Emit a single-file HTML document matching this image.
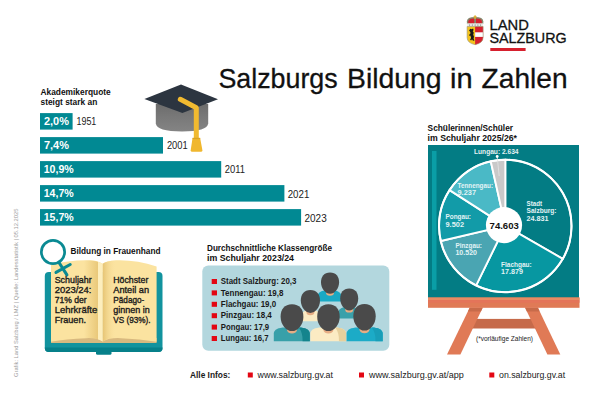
<!DOCTYPE html>
<html><head><meta charset="utf-8">
<style>
html,body{margin:0;padding:0;background:#fff;}
body{width:600px;height:400px;overflow:hidden;}
svg{display:block;font-family:"Liberation Sans",sans-serif;}
.b{font-weight:bold;}
</style></head><body>
<svg width="600" height="400" viewBox="0 0 600 400">
<rect width="600" height="400" fill="#ffffff"/>

<!-- LOGO -->
<g id="logo">
  <!-- crown -->
  <path d="M466.9 23.7 V21.2 Q466.9 16.9 475.1 16.9 Q483.3 16.9 483.3 21.2 V23.7 Z" fill="#86886c"/>
  <path d="M468.3 23.5 V21.6 Q468.5 18.5 474.2 18.4 V23.5 Z" fill="#d6202e"/>
  <path d="M481.9 23.5 V21.6 Q481.7 18.5 476 18.4 V23.5 Z" fill="#d6202e"/>
  <rect x="474.35" y="15.4" width="1.5" height="3.6" fill="#dfae2e"/>
  <rect x="473.5" y="16.3" width="3.2" height="1.1" fill="#dfae2e"/>
  <!-- ermine band -->
  <rect x="467.2" y="23.4" width="15.8" height="3.2" fill="#e9e9e6"/>
  <g fill="#555"><circle cx="469.6" cy="25" r="0.55"/><circle cx="472.3" cy="25" r="0.55"/><circle cx="475.1" cy="25" r="0.55"/><circle cx="477.9" cy="25" r="0.55"/><circle cx="480.6" cy="25" r="0.55"/></g>
  <!-- shield -->
  <path d="M467.1 26.5 H483.1 V37.5 Q483.1 43 475.1 44.7 Q467.1 43 467.1 37.5 Z" fill="#f3c31d"/>
  <path d="M475.1 26.5 H483.1 V37.5 Q483.1 43 475.1 44.7 Z" fill="#d6202e"/>
  <rect x="475.1" y="32.3" width="8" height="4.6" fill="#ffffff"/>
  <path d="M467.1 26.5 H483.1 V37.5 Q483.1 43 475.1 44.7 Q467.1 43 467.1 37.5 Z" fill="none" stroke="#9a9686" stroke-width="0.6"/>
  <path d="M470.2 28.8 l1.6 0.4 l1.2 -0.6 l0.6 1.4 l-0.8 1.2 l1 1.6 l-0.6 1.8 l0.8 2.2 l-0.4 2 l0.9 1.6 l-1.5 0.4 l-1 -1.6 l-0.9 1.2 l-1 -0.6 l1 -2 l-0.8 -2.2 l-1.1 0.4 l0.2 -1.6 l1.2 -1.2 l-0.6 -1.8 l-1 -0.6 z" fill="#1a1a1a"/>
  <g fill="#111" stroke="#111" stroke-width="0.3" font-size="15.4">
  <text x="489.5" y="29.5" textLength="39.3" lengthAdjust="spacingAndGlyphs" >LAND</text>
  <text x="489.5" y="43.1" textLength="77.2" lengthAdjust="spacingAndGlyphs" >SALZBURG</text>
  </g>
  <rect x="490.3" y="48" width="35.3" height="3" fill="#d6202e"/>
</g>

<!-- TITLE -->
<g fill="#111" stroke="#111" stroke-width="0.3" font-size="28.5">
  <text x="218.4" y="88.2" textLength="119.3" lengthAdjust="spacingAndGlyphs" >Salzburgs</text>
  <text x="347" y="88.2" textLength="94.6" lengthAdjust="spacingAndGlyphs" >Bildung</text>
  <text x="450" y="88.2" textLength="22.6" lengthAdjust="spacingAndGlyphs" >in</text>
  <text x="481.6" y="88.2" textLength="86" lengthAdjust="spacingAndGlyphs" >Zahlen</text>
</g>

<!-- BARS -->
<g id="bars">
  <g class="b" font-size="8.6" fill="#111">
  <text x="40.5" y="95.4" textLength="70.2" lengthAdjust="spacingAndGlyphs" >Akademikerquote</text>
  <text x="40.5" y="105.2" textLength="56.8" lengthAdjust="spacingAndGlyphs" >steigt stark an</text>
  </g>
  <g fill="#018993">
    <rect x="40" y="113.1" width="32.6" height="16.5"/>
    <rect x="40" y="137.1" width="123" height="16.5"/>
    <rect x="40" y="161.1" width="181.2" height="16.5"/>
    <rect x="40" y="185.1" width="244.4" height="16.5"/>
    <rect x="40" y="209.1" width="261.1" height="16.5"/>
  </g>
  <g class="b" fill="#fff" font-size="10.2">
    <text x="43.9" y="125.2" textLength="25" lengthAdjust="spacingAndGlyphs" >2,0%</text>
    <text x="43.9" y="149.2" textLength="25" lengthAdjust="spacingAndGlyphs" >7,4%</text>
    <text x="43.7" y="173.2" textLength="30" lengthAdjust="spacingAndGlyphs" >10,9%</text>
    <text x="43.7" y="197.2" textLength="30" lengthAdjust="spacingAndGlyphs" >14,7%</text>
    <text x="43.7" y="221.2" textLength="30" lengthAdjust="spacingAndGlyphs" >15,7%</text>
  </g>
  <g fill="#222" font-size="10.3">
    <text x="76.5" y="125.3" textLength="19.8" lengthAdjust="spacingAndGlyphs" >1951</text>
    <text x="166.9" y="149.2" textLength="20.8" lengthAdjust="spacingAndGlyphs" >2001</text>
    <text x="224.7" y="173.1" textLength="20.2" lengthAdjust="spacingAndGlyphs" >2011</text>
    <text x="287.7" y="197.5" textLength="21.6" lengthAdjust="spacingAndGlyphs" >2021</text>
    <text x="304.5" y="221.6" textLength="22.2" lengthAdjust="spacingAndGlyphs" >2023</text>
  </g>
</g>

<!-- CAP -->
<g id="cap">
  <defs><linearGradient id="gc" x1="0" y1="0" x2="0" y2="1"><stop offset="0" stop-color="#6c6c6c"/><stop offset="0.45" stop-color="#787878"/><stop offset="1" stop-color="#848484"/></linearGradient></defs>
  <path d="M155.8 104 V123.5 Q156.6 131.4 182 131.4 Q207.4 131.4 208.2 123.5 V104 Z" fill="url(#gc)"/>
  <path d="M144.4 99 L181 84.4 L218 99.3 L182.4 113 Z" fill="#2c3540"/>
  <path d="M180.3 99.3 L196.3 107.8 V139" fill="none" stroke="#f1ba30" stroke-width="5" stroke-linejoin="round" stroke-linecap="round"/>
  <path d="M192.5 138.2 H200.2 L202.4 150.2 Q202.5 151.8 200.9 151.8 H192.2 Q190.6 151.8 190.7 150.2 Z" fill="#f0b72e"/>
  <rect x="192.5" y="137.8" width="7.7" height="1.3" fill="#d9a426"/>
</g>

<!-- BOOK -->
<g id="book">
  <defs>
    <linearGradient id="gl" x1="0" x2="1"><stop offset="0" stop-color="#e3bf6c" stop-opacity="0"/><stop offset="0.75" stop-color="#e3bf6c" stop-opacity="0.75"/><stop offset="0.76" stop-color="#fdeebd"/><stop offset="1" stop-color="#fdeebd"/></linearGradient>
    <linearGradient id="gr" x1="0" x2="1"><stop offset="0" stop-color="#e6c474"/><stop offset="1" stop-color="#fbe3a0" stop-opacity="0"/></linearGradient>
  </defs>
  <rect x="44.8" y="272" width="117.7" height="80" rx="4" fill="#12939e"/>
  <path d="M44.8 347.5 H162.5 V348 Q162.5 352 158.5 352 H48.8 Q44.8 352 44.8 348 Z" fill="#06808a"/>
  <rect x="96" y="350" width="15.5" height="4.7" rx="1.5" fill="#06808a"/>
  <path d="M51 338 H156.6 V343 H51 Z" fill="#d8b97f"/>
  <path d="M51 264.8 Q70 259.6 90 260.2 Q98 260.6 102.8 263.8 V341.6 Q97 337.6 86 338.2 Q66 339 51 341.8 Z" fill="#fbe3a0"/>
  <path d="M102.8 263.8 Q106 260.8 116 260.3 Q136 259.6 156.6 266.5 V341.8 Q140 339 121 338.2 Q109 337.6 102.8 341.6 Z" fill="#fbe3a0"/>
  <path d="M84 260.2 Q98 260.6 102.8 263.8 V341.6 Q97 337.6 84 338.2 Z" fill="url(#gl)"/>
  <path d="M102.8 263.8 Q106 260.8 116 260.3 V338.2 Q109 337.6 102.8 341.6 Z" fill="url(#gr)"/>
  <circle cx="53" cy="252" r="11.65" fill="none" stroke="#0a8a93" stroke-width="2.7"/>
  <path d="M59.3 263 L66.9 274.9 M56 272.4 L70.2 264.5" stroke="#0a8a93" stroke-width="3.1" stroke-linecap="round" fill="none"/>
  <g class="b" font-size="8.6" fill="#111"><text x="70.5" y="253.6" textLength="90" lengthAdjust="spacingAndGlyphs" >Bildung in Frauenhand</text></g>
  <g fill="#1a1a1a" stroke="#1a1a1a" stroke-width="0.34" font-size="8.8">
    <text x="54.7" y="283.1" textLength="37" lengthAdjust="spacingAndGlyphs" >Schuljahr</text>
    <text x="54.7" y="293.15" textLength="36.8" lengthAdjust="spacingAndGlyphs" >2023/24:</text>
    <text x="54.7" y="303.2" textLength="32" lengthAdjust="spacingAndGlyphs" >71% der</text>
    <text x="54.7" y="313.25" textLength="42.5" lengthAdjust="spacingAndGlyphs" >Lehrkräfte</text>
    <text x="54.7" y="323.3" textLength="31.3" lengthAdjust="spacingAndGlyphs" >Frauen.</text>
    <text x="113.3" y="283.1" textLength="35" lengthAdjust="spacingAndGlyphs" >Höchster</text>
    <text x="113.3" y="293.15" textLength="35.8" lengthAdjust="spacingAndGlyphs" >Anteil an</text>
    <text x="113.3" y="303.2" textLength="31" lengthAdjust="spacingAndGlyphs" >Pädago-</text>
    <text x="113.3" y="313.25" textLength="36.5" lengthAdjust="spacingAndGlyphs" >ginnen in</text>
    <text x="113.3" y="323.3" textLength="37.3" lengthAdjust="spacingAndGlyphs" >VS (93%).</text>
  </g>
</g>

<!-- CLASS SIZE -->
<g id="klass">
  <g class="b" font-size="8.6" fill="#111">
  <text x="207" y="250.5" textLength="125" lengthAdjust="spacingAndGlyphs" >Durchschnittliche Klassengröße</text>
  <text x="207" y="261" textLength="87" lengthAdjust="spacingAndGlyphs" >im Schuljahr 2023/24</text>
  </g>
  <rect x="202.3" y="265.5" width="187" height="85.3" rx="6" fill="#b3d7de"/>
  <g fill="#e30613">
    <rect x="211.7" y="279" width="5.3" height="5"/>
    <rect x="211.7" y="290.4" width="5.3" height="5"/>
    <rect x="211.7" y="301.8" width="5.3" height="5"/>
    <rect x="211.7" y="313.2" width="5.3" height="5"/>
    <rect x="211.7" y="324.6" width="5.3" height="5"/>
    <rect x="211.7" y="336" width="5.3" height="5"/>
  </g>
  <g class="b" fill="#1a1a1a" font-size="8.5">
    <text x="220.8" y="284.3" textLength="75.6" lengthAdjust="spacingAndGlyphs" >Stadt Salzburg: 20,3</text>
    <text x="220.8" y="295.65" textLength="62.6" lengthAdjust="spacingAndGlyphs" >Tennengau: 19,8</text>
    <text x="220.8" y="307" textLength="55.4" lengthAdjust="spacingAndGlyphs" >Flachgau: 19,0</text>
    <text x="220.8" y="318.3" textLength="51" lengthAdjust="spacingAndGlyphs" >Pinzgau: 18,4</text>
    <text x="220.8" y="329.65" textLength="48.4" lengthAdjust="spacingAndGlyphs" >Pongau: 17,9</text>
    <text x="220.8" y="341" textLength="47.8" lengthAdjust="spacingAndGlyphs" >Lungau: 16,7</text>
  </g>
  <!-- people -->
  <g>
    <path d="M317.8 301.6 V295.8 C317.8 292.8 321.08 290.8 324.82 290.8 H334.18 C337.92 290.8 341.2 292.8 341.2 295.8 V301.6 Z" fill="#19a9c4"/>
    <ellipse cx="330" cy="292.6" rx="4" ry="3.2" fill="#e6ad84"/>
    <path d="M330.05 272.40 C336.02 272.40 339.10 276.47 339.10 282.24 C339.10 288.66 334.58 293.80 330.05 293.80 C325.52 293.80 321.00 288.66 321.00 282.24 C321.00 276.47 324.08 272.40 330.05 272.40 Z" fill="#4a4a4a"/>
    <path d="M302 321.3 V315.5 C302 312.5 304.45 310.5 307.25 310.5 H314.25 C317.05 310.5 319.5 312.5 319.5 315.5 V321.3 Z" fill="#fbebc3"/>
    <ellipse cx="310.4" cy="312" rx="4" ry="3.2" fill="#e6ad84"/>
    <path d="M310.40 290.00 C316.74 290.00 320.00 294.35 320.00 300.53 C320.00 307.40 315.20 312.90 310.40 312.90 C305.60 312.90 300.80 307.40 300.80 300.53 C300.80 294.35 304.06 290.00 310.40 290.00 Z" fill="#4a4a4a"/>
    <path d="M338.4 318.6 V312.6 C338.4 309.6 341.21 307.6 344.43 307.6 H352.47 C355.69 307.6 358.5 309.6 358.5 312.6 V318.6 Z" fill="#3aa0aa"/>
    <ellipse cx="349.2" cy="309.4" rx="4" ry="3.2" fill="#e6ad84"/>
    <path d="M349.20 288.40 C355.14 288.40 358.20 292.58 358.20 298.52 C358.20 305.12 353.70 310.40 349.20 310.40 C344.70 310.40 340.20 305.12 340.20 298.52 C340.20 292.58 343.26 288.40 349.20 288.40 Z" fill="#4a4a4a"/>
    <path d="M273.8 341.2 V333.6 C273.8 329.6 278.84 327.6 284.60 327.6 H299.00 C304.76 327.6 309.8 329.6 309.8 333.6 V341.2 Z" fill="#38a0a9"/><path d="M299.00 327.6 C304.76 327.6 309.8 329.6 309.8 333.6 V341.2 H302.60 Q302.96 333.6 299.00 327.6 Z" fill="#14848d"/>
    <ellipse cx="292" cy="329.8" rx="5" ry="3.8" fill="#e6ad84"/>
    <path d="M292.00 304.30 C299.52 304.30 303.40 309.39 303.40 316.63 C303.40 324.67 297.70 331.10 292.00 331.10 C286.30 331.10 280.60 324.67 280.60 316.63 C280.60 309.39 284.48 304.30 292.00 304.30 Z" fill="#4a4a4a"/>
    <path d="M310.4 341.2 V333.6 C310.4 329.6 315.40 327.6 321.11 327.6 H335.39 C341.10 327.6 346.1 329.6 346.1 333.6 V341.2 Z" fill="#fbebc3"/><path d="M335.39 327.6 C341.10 327.6 346.1 329.6 346.1 333.6 V341.2 H338.96 Q339.32 333.6 335.39 327.6 Z" fill="#e7d09d"/>
    <ellipse cx="328.4" cy="329.8" rx="5" ry="3.8" fill="#e6ad84"/>
    <path d="M328.45 304.30 C335.88 304.30 339.70 309.39 339.70 316.63 C339.70 324.67 334.07 331.10 328.45 331.10 C322.82 331.10 317.20 324.67 317.20 316.63 C317.20 309.39 321.02 304.30 328.45 304.30 Z" fill="#4a4a4a"/>
    <path d="M346.6 341.2 V333.6 C346.6 329.6 351.65 327.6 357.43 327.6 H371.87 C377.65 327.6 382.7 329.6 382.7 333.6 V341.2 Z" fill="#1cabc7"/><path d="M371.87 327.6 C377.65 327.6 382.7 329.6 382.7 333.6 V341.2 H375.48 Q375.84 333.6 371.87 327.6 Z" fill="#189eb8"/>
    <ellipse cx="364.5" cy="329.5" rx="5" ry="3.8" fill="#e6ad84"/>
    <path d="M364.50 303.90 C371.89 303.90 375.70 308.97 375.70 316.18 C375.70 324.19 370.10 330.60 364.50 330.60 C358.90 330.60 353.30 324.19 353.30 316.18 C353.30 308.97 357.11 303.90 364.50 303.90 Z" fill="#4a4a4a"/>
  </g>
</g>

<!-- BOARD / PIE -->
<g id="board">
  <g class="b" font-size="8.6" fill="#111">
  <text x="427.6" y="131" textLength="85.4" lengthAdjust="spacingAndGlyphs" >Schülerinnen/Schüler</text>
  <text x="427.6" y="141" textLength="89.4" lengthAdjust="spacingAndGlyphs" >im Schuljahr 2025/26*</text>
  </g>
  <rect x="428" y="145" width="151" height="153" fill="#037c84"/>
  <rect x="432" y="151" width="4.5" height="138.8" fill="#0a9ea6"/>
  <g id="pie" stroke="#fff" stroke-width="1.9" stroke-linejoin="round">
<path d="M505.3 225.9 L505.30 159.70 A66.2 66.2 0 0 1 562.73 258.82 Z" fill="#037c84"/>
<path d="M505.3 225.9 L562.73 258.82 A66.2 66.2 0 0 1 476.18 285.35 Z" fill="#0797a1"/>
<path d="M505.3 225.9 L476.18 285.35 A66.2 66.2 0 0 1 440.83 240.95 Z" fill="#4aa5b2"/>
<path d="M505.3 225.9 L440.83 240.95 A66.2 66.2 0 0 1 449.60 190.12 Z" fill="#129ba8"/>
<path d="M505.3 225.9 L449.60 190.12 A66.2 66.2 0 0 1 490.73 161.32 Z" fill="#4ab9c6"/>
<path d="M505.3 225.9 L490.73 161.32 A66.2 66.2 0 0 1 505.30 159.70 Z" fill="#c9c9c9"/>
<circle cx="505.3" cy="225.9" r="66.2" fill="none" stroke="#fff" stroke-width="1.9"/>
<circle cx="504" cy="225.1" r="18.1" fill="#ffffff" stroke="none"/>
<line x1="497.2" y1="156.5" x2="499.2" y2="176" stroke="#e3e3e3" stroke-width="0.8"/>
<circle cx="497.2" cy="156.5" r="1.4" fill="#fff" stroke="none"/>
<g stroke="none" class="b" font-size="7.2" fill="#e2f3f5">
 <text x="474" y="154" textLength="44.5" lengthAdjust="spacingAndGlyphs" fill="#e4f1f2">Lungau: 2.634</text>
 <text x="457.5" y="187.5" textLength="35.5" lengthAdjust="spacingAndGlyphs" >Tennengau:</text>
 <text x="457.5" y="195.3" textLength="18.5" lengthAdjust="spacingAndGlyphs" >9.237</text>
 <text x="445.5" y="219" textLength="25.5" lengthAdjust="spacingAndGlyphs" >Pongau:</text>
 <text x="445.5" y="226.8" textLength="18.5" lengthAdjust="spacingAndGlyphs" >9.502</text>
 <text x="455.4" y="247.6" textLength="26.6" lengthAdjust="spacingAndGlyphs" >Pinzgau:</text>
 <text x="455.4" y="255.4" textLength="21.6" lengthAdjust="spacingAndGlyphs" >10.520</text>
 <text x="501" y="266.5" textLength="30.7" lengthAdjust="spacingAndGlyphs" >Flachgau:</text>
 <text x="501" y="274.3" textLength="22" lengthAdjust="spacingAndGlyphs" >17.879</text>
 <text x="526.5" y="205.5" textLength="15.5" lengthAdjust="spacingAndGlyphs" >Stadt</text>
 <text x="526.5" y="213.3" textLength="30" lengthAdjust="spacingAndGlyphs" >Salzburg:</text>
 <text x="526.5" y="221.1" textLength="22" lengthAdjust="spacingAndGlyphs" >24.831</text>
</g>
<g class="b" stroke="none" font-size="9.8" fill="#111"><text x="489.6" y="228.6" textLength="29.2" lengthAdjust="spacingAndGlyphs" >74.603</text></g>
  </g>
  <rect x="466" y="318.9" width="76" height="9.6" fill="#c66a4a"/>
  <path d="M469.8 307.6 H482.8 L460.4 354.5 H447 Z" fill="#e07a56"/>
  <path d="M525 307.6 H537.8 L560.3 354.5 H547.4 Z" fill="#e07a56"/>
  <path d="M469.8 307.6 H482.8 L480.9 311.6 H467.9 Z" fill="#c86b4a"/>
  <path d="M525 307.6 H537.8 L539.7 311.6 H526.9 Z" fill="#c86b4a"/>
  <rect x="428" y="297.5" width="151.5" height="10.3" fill="#e07a56"/>
  <rect x="428" y="297.5" width="151.5" height="2.6" fill="#e88b63"/>
  <rect x="428" y="300.1" width="151.5" height="2.6" fill="#e4745a"/>
  <g font-size="6.3" fill="#222"><text x="476" y="341" textLength="57" lengthAdjust="spacingAndGlyphs" >(*vorläufige Zahlen)</text></g>
</g>

<!-- FOOTER -->
<g id="footer" font-size="8.7" fill="#1a1a1a">
  <g class="b"><text x="190" y="378" textLength="40.3" lengthAdjust="spacingAndGlyphs" >Alle Infos:</text></g>
  <rect x="247.8" y="372.5" width="5" height="5" fill="#e30613"/>
  <text x="257.5" y="378" textLength="75.5" lengthAdjust="spacingAndGlyphs" >www.salzburg.gv.at</text>
  <rect x="359" y="372.5" width="5" height="5" fill="#e30613"/>
  <text x="369" y="378" textLength="94.8" lengthAdjust="spacingAndGlyphs" >www.salzburg.gv.at/app</text>
  <rect x="489.3" y="372.5" width="5" height="5" fill="#e30613"/>
  <text x="499" y="378" textLength="66.2" lengthAdjust="spacingAndGlyphs" >on.salzburg.gv.at</text>
</g>

<!-- CREDIT -->
<g font-size="5.7" fill="#9c9c9c" transform="translate(18 377) rotate(-90)"><text x="0" y="0" textLength="168.4" lengthAdjust="spacingAndGlyphs" >Grafik: Land Salzburg / LMZ  |  Quelle: Landesstatistik  |  05.12.2025</text></g>
</svg>
</body></html>
